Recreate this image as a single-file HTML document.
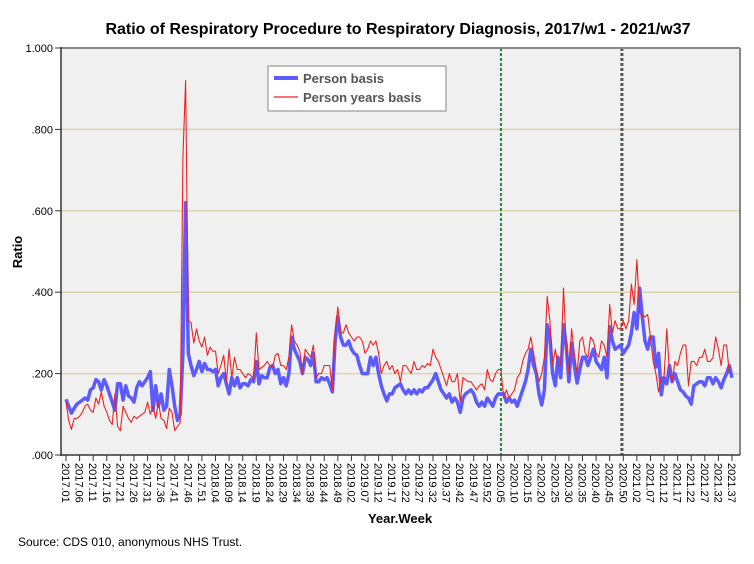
<!DOCTYPE html>
<html><head><meta charset="utf-8"><style>
body{margin:0;background:#fff;}
svg{display:block;font-family:"Liberation Sans",Arial,sans-serif;}
</style></head><body>
<svg id="chart" width="754" height="564" viewBox="0 0 754 564">
<rect x="0" y="0" width="754" height="564" fill="#fff"/>
<text x="398" y="34" text-anchor="middle" font-size="16" font-weight="bold">Ratio of Respiratory Procedure to Respiratory Diagnosis, 2017/w1 - 2021/w37</text>
<rect x="61" y="48" width="679" height="407" fill="#f0f0f0"/>
<g id="grid"></g>
<g id="marks"></g>
<line x1="61" y1="48" x2="740" y2="48" stroke="#888" stroke-width="2"/>
<line x1="740" y1="48" x2="740" y2="455" stroke="#888" stroke-width="2"/>
<line x1="61" y1="47" x2="61" y2="456" stroke="#333" stroke-width="1.5"/>
<line x1="61" y1="455" x2="740" y2="455" stroke="#333" stroke-width="1.5"/>
<g id="yticks"></g>
<g id="xticks"></g>
<text x="22" y="252" text-anchor="middle" font-size="13" font-weight="bold" transform="rotate(-90 22 252)">Ratio</text>
<text x="400" y="523" text-anchor="middle" font-size="13" font-weight="bold">Year.Week</text>
<text x="18" y="546" font-size="12">Source: CDS 010, anonymous NHS Trust.</text>
<g>
<rect x="268" y="66" width="178" height="45" fill="#fff" stroke="#aaa" stroke-width="1.5"/>
<line x1="274" y1="78" x2="298" y2="78" stroke="#5b5bff" stroke-width="4"/>
<text x="303" y="83" font-size="13" font-weight="bold" fill="#555">Person basis</text>
<line x1="274" y1="97" x2="298" y2="97" stroke="#ee2222" stroke-width="1.2"/>
<text x="303" y="102" font-size="13" font-weight="bold" fill="#555">Person years basis</text>
</g>
</svg>
<script>
const years=[2017,2018,2019,2020,2021];
const weeksPerYear=[52,52,52,53,37];
const yTicks=[0,0.2,0.4,0.6,0.8,1.0];
const yTickLabels=[".000",".200",".400",".600",".800","1.000"];
const markerWeeks=[160,204.5];
const personBasis=[
0.137,0.12,0.103,0.115,0.125,0.13,0.135,0.14,0.135,0.16,0.165,0.185,0.18,0.16,0.185,0.17,0.15,0.13,0.11,0.175,0.175,0.135,0.17,0.145,0.14,0.13,0.165,0.18,0.17,0.18,0.19,0.205,0.11,0.17,0.12,0.15,0.11,0.12,0.21,0.17,0.12,0.085,0.10,0.25,
0.62,
0.25,0.22,0.195,0.21,0.23,0.205,0.225,0.21,0.21,0.205,0.21,0.17,0.19,0.2,0.175,0.15,0.19,0.17,0.19,0.165,0.175,0.175,0.17,0.185,0.18,0.23,0.175,0.195,0.19,0.19,0.215,0.22,0.2,0.21,0.175,
0.19,0.17,0.2,0.29,0.26,0.245,0.23,0.2,0.24,0.235,0.22,0.25,0.18,0.18,0.19,0.185,0.19,0.175,0.155,0.28,0.34,0.29,0.27,0.27,0.28,0.26,0.25,0.245,0.22,0.2,0.2,0.2,0.24,0.22,0.24,0.2,0.17,0.15,0.133,0.15,0.15,0.165,0.17,0.175,0.16,0.15,0.16,0.15,0.16,0.15,0.16,0.155,0.165,0.165,0.175,0.185,0.2,0.18,0.16,0.15,0.14,0.15,0.13,0.14,0.13,0.105,0.14,0.15,0.155,0.16,0.15,0.13,0.12,0.13,0.12,0.14,0.13,0.12,0.14,0.15,0.15,
0.15,0.13,0.14,0.13,0.135,0.12,0.14,0.16,0.18,0.21,0.26,0.22,0.2,0.15,0.123,0.16,0.32,0.29,0.2,0.17,0.24,0.19,0.32,0.27,0.18,0.275,0.22,0.177,0.21,0.24,0.24,0.22,0.24,0.26,0.23,0.22,0.21,0.24,0.19,0.315,0.28,0.26,0.265,0.27,0.25,0.26,0.27,0.3,0.35,0.31,0.41,0.34,0.28,0.26,0.29,0.29,0.216,0.25,0.148,0.19,0.175,0.22,0.18,0.2,0.18,0.16,0.155,0.145,0.14,0.125,0.17,0.175,0.18,0.18,0.17,0.19,0.19,0.175,0.19,0.18,0.165,0.185,0.2,0.22,0.19
];
const personYearsBasis=[
0.13,0.085,0.063,0.09,0.09,0.095,0.105,0.12,0.125,0.11,0.105,0.14,0.125,0.155,0.12,0.105,0.085,0.075,0.15,0.07,0.06,0.12,0.105,0.09,0.08,0.095,0.09,0.095,0.10,0.105,0.13,0.1,0.12,0.09,0.13,0.09,0.085,0.065,0.115,0.105,0.06,0.07,0.08,0.73,
0.92,
0.33,0.325,0.275,0.31,0.28,0.265,0.29,0.245,0.265,0.255,0.255,0.2,0.22,0.245,0.18,0.26,0.19,0.24,0.21,0.21,0.2,0.19,0.2,0.195,0.185,0.3,0.21,0.215,0.22,0.23,0.22,0.215,0.245,0.25,0.22,
0.22,0.21,0.24,0.32,0.28,0.27,0.255,0.2,0.26,0.25,0.24,0.27,0.19,0.2,0.2,0.22,0.22,0.22,0.16,0.3,0.364,0.3,0.3,0.32,0.3,0.29,0.28,0.29,0.29,0.28,0.25,0.26,0.28,0.27,0.28,0.25,0.2,0.22,0.23,0.21,0.22,0.2,0.21,0.18,0.22,0.22,0.21,0.2,0.23,0.21,0.21,0.22,0.215,0.225,0.22,0.26,0.24,0.23,0.21,0.19,0.17,0.2,0.18,0.18,0.2,0.13,0.19,0.185,0.18,0.18,0.17,0.16,0.17,0.175,0.16,0.21,0.185,0.18,0.2,0.21,0.21,
0.14,0.16,0.14,0.15,0.16,0.19,0.2,0.23,0.25,0.26,0.29,0.25,0.21,0.18,0.2,0.24,0.39,0.33,0.22,0.26,0.22,0.22,0.41,0.27,0.2,0.31,0.25,0.2,0.28,0.29,0.25,0.24,0.29,0.28,0.25,0.24,0.28,0.27,0.24,0.37,0.3,0.33,0.31,0.31,0.33,0.31,0.33,0.42,0.37,0.48,0.35,0.34,0.34,0.345,0.29,0.23,0.2,0.155,0.19,0.19,0.31,0.2,0.18,0.23,0.22,0.25,0.27,0.27,0.17,0.23,0.23,0.22,0.24,0.24,0.26,0.23,0.23,0.24,0.29,0.26,0.22,0.27,0.27,0.2
];
const NS="http://www.w3.org/2000/svg";
const n=personBasis.length;
const xScale=i=>66+i*(732-66)/(n-1);
const yScale=v=>455-v*407;
function mk(tag,attrs,parent){const e=document.createElementNS(NS,tag);for(const k in attrs)e.setAttribute(k,attrs[k]);parent.appendChild(e);return e;}
const grid=document.getElementById('grid'),yt=document.getElementById('yticks'),xt=document.getElementById('xticks'),marks=document.getElementById('marks');
yTicks.forEach((v,k)=>{
 if(v>0&&v<1){const g=mk('line',{x1:61,x2:740,y1:yScale(v),y2:yScale(v),stroke:'#d9d5ad','stroke-width':1.5},grid);
 
 }
 const t=mk('line',{x1:55,x2:61,y1:yScale(v),y2:yScale(v),stroke:'#333'},yt);
 
 
 const tx=mk('text',{x:53,y:yScale(v)+4,'text-anchor':'end','font-size':11},yt);
 tx.textContent=yTickLabels[k];
 
 
});
// week labels
const weekLabels=[];
years.forEach((y,yi)=>{for(let w=1;w<=weeksPerYear[yi];w++)weekLabels.push(y+'.'+String(w).padStart(2,'0'));});
for(let i=0;i<n;i+=5){
 const x=xScale(i);
 const t=mk('line',{x1:x,x2:x,y1:455,y2:461,stroke:'#333'},xt);
 
 
 const tx=mk('text',{x:x-4,y:463,'font-size':11,transform:`rotate(90 ${x-4} 463)`},xt);
 tx.textContent=weekLabels[i];
 
 
}
// marker lines
const mg=mk('line',{x1:xScale(markerWeeks[0]),x2:xScale(markerWeeks[0]),y1:48,y2:455,stroke:'#1a8a3a','stroke-width':2,'stroke-dasharray':'3,2'},marks);


const mgr=mk('line',{x1:xScale(markerWeeks[1]),x2:xScale(markerWeeks[1]),y1:48,y2:455,stroke:'#555','stroke-width':3,'stroke-dasharray':'3,2'},marks);


const pts=a=>a.map((v,i)=>xScale(i).toFixed(1)+','+yScale(v).toFixed(1)).join(' ');
const lb=mk('polyline',{points:pts(personBasis),fill:'none',stroke:'#5b5bff','stroke-width':3.5,'stroke-linejoin':'round'},marks);


const lr=mk('polyline',{points:pts(personYearsBasis),fill:'none',stroke:'#ee2222','stroke-width':1.1,'stroke-linejoin':'round'},marks);


</script>
</body></html>
